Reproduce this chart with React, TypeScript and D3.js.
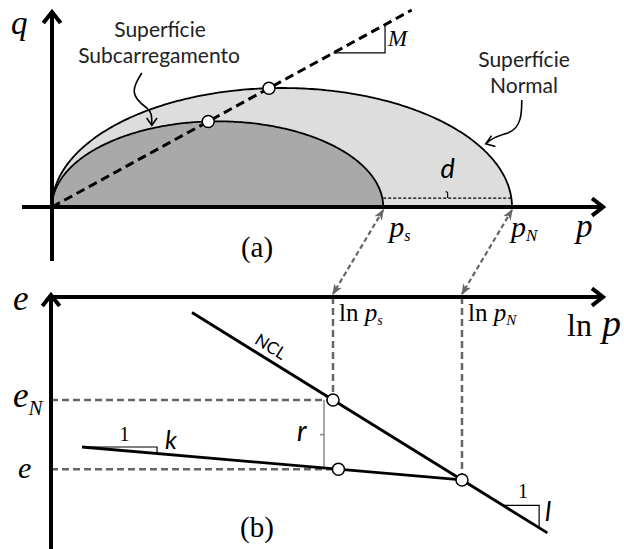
import React from "react";
import * as d3 from "d3";

// Yield surfaces (modified Cam-Clay shape) in the p–q plane
const pS = 7.2; // subloading surface size
const pN = 10; // normal surface size
const surfaceShape = 1.2; // q at surface top / (p0 / 2)
const M = 1.27; // critical state line slope
const cslEndP = 7.82;
const pAxisMax = 11.98;
const dOffsetQ = 0.45;

// Compression lines in the ln p – e plane
const N = 1.5; // NCL intercept at ln p = 0
const lambda = 0.25;
const kappa = 0.035;
const pCurrent = 7.3;
const nclLnRange = [1.615, 2.52];
const kappaStartLn = 1.335;
const kappaTriangleWidth = 0.191;
const lambdaTriangle = [2.407, 2.499];

const serif = "'Liberation Serif', 'Times New Roman', serif";
const sans = "Lato, 'Open Sans', sans-serif";

function chevron(tip: [number, number], angleDeg: number, len: number, spread: number) {
  const a = (angleDeg * Math.PI) / 180;
  const s = (spread * Math.PI) / 180;
  const p1: [number, number] = [tip[0] - len * Math.cos(a - s), tip[1] - len * Math.sin(a - s)];
  const p2: [number, number] = [tip[0] - len * Math.cos(a + s), tip[1] - len * Math.sin(a + s)];
  return `M${p1[0]},${p1[1]} L${tip[0]},${tip[1]} L${p2[0]},${p2[1]}`;
}

export default function App() {
  const W = 624;
  const H = 549;

  const xP = d3.scaleLinear().domain([0, 10]).range([52, 512]);
  const yQ = d3.scaleLinear().domain([0, 6]).range([207, 88]);
  const xL = d3.scaleLinear().domain([Math.log(pS), Math.log(pN)]).range([333, 462]);
  const yE = d3.scaleLinear().domain([0.9, 1.0]).range([503.7, 406.3]);

  const surface = (p0: number) =>
    d3.range(0, 241).map((i) => {
      const t = (i / 240) * Math.PI;
      return [(p0 / 2) * (1 - Math.cos(t)), ((surfaceShape * p0) / 2) * Math.sin(t)] as [number, number];
    });
  const surfaceQ = (p0: number, p: number) => surfaceShape * Math.sqrt(Math.max(0, p * (p0 - p)));
  const area = d3
    .area<[number, number]>()
    .x((d) => xP(d[0]))
    .y0(yQ(0))
    .y1((d) => yQ(d[1]));
  const line = d3
    .line<[number, number]>()
    .x((d) => xP(d[0]))
    .y((d) => yQ(d[1]));

  // stress state on the CSL for each surface
  const cslHit = (p0: number) => {
    const p = (p0 * surfaceShape ** 2) / (surfaceShape ** 2 + M ** 2);
    return [p, M * p] as [number, number];
  };
  const hitS = cslHit(pS);
  const hitN = cslHit(pN);

  // slope triangle on the CSL
  const triQ = 7.77;
  const triP1 = triQ / M;
  const triP2 = 7.24;

  // compression lines
  const ncl = (lp: number) => N - lambda * lp;
  const lnPS = Math.log(pS);
  const lnPN = Math.log(pN);
  const lnPC = Math.log(pCurrent);
  const eAtPN = ncl(lnPN);
  const url = (lp: number) => eAtPN + kappa * (lnPN - lp);
  const eN = ncl(lnPS);
  const eCur = url(lnPC);

  const nclAngle =
    (Math.atan2(yE(ncl(nclLnRange[1])) - yE(ncl(nclLnRange[0])), xL(nclLnRange[1]) - xL(nclLnRange[0])) * 180) / Math.PI;
  const nclLabelLn = 1.8;

  const axisW = 4;
  const gray = "#666666";

  // annotation arrows pointing to the surfaces
  const subTipP = 2.17;
  const subTip: [number, number] = [xP(subTipP), yQ(surfaceQ(pS, subTipP)) - 3];
  const norTipP = 9.43;
  const norTip: [number, number] = [xP(norTipP), yQ(surfaceQ(pN, norTipP)) - 8];

  const dMid = xP((pS + pN) / 2);

  return (
    <svg width={W} height={H} viewBox={`0 0 ${W} ${H}`} style={{ position: "absolute", left: 0, top: 0, background: "#fff" }}>
      <defs>
        <marker id="grayHead" viewBox="0 0 10 8" refX="9" refY="4" markerWidth="11" markerHeight="9" markerUnits="userSpaceOnUse" orient="auto-start-reverse">
          <path d="M0,0 L10,4 L0,8 L3,4 z" fill={gray} />
        </marker>
      </defs>

      {/* ---------- (a) p–q plane ---------- */}
      <path d={area(surface(pN)) || ""} fill="#dddddd" stroke="none" />
      <path d={area(surface(pS)) || ""} fill="#a9a9a9" stroke="none" />
      <path d={line(surface(pN)) || ""} fill="none" stroke="#000" strokeWidth={1.8} />
      <path d={line(surface(pS)) || ""} fill="none" stroke="#000" strokeWidth={1.8} />

      {/* d: distance between surfaces */}
      <line x1={xP(pS)} x2={xP(pN)} y1={yQ(dOffsetQ)} y2={yQ(dOffsetQ)} stroke="#000" strokeWidth={1.2} strokeDasharray="3,2" />
      <path
        d={`M${dMid},${yQ(dOffsetQ)} L${dMid},${yQ(dOffsetQ) - 5} Q${dMid - 1},${yQ(dOffsetQ) - 7} ${dMid - 2},${yQ(dOffsetQ) - 6}`}
        fill="none"
        stroke="#000"
        strokeWidth={1.2}
      />
      <text x={dMid} y={178} fontFamily={sans} fontStyle="italic" fontSize={27} textAnchor="middle">d</text>

      {/* critical state line */}
      <line x1={xP(0)} y1={yQ(0)} x2={xP(cslEndP)} y2={yQ(M * cslEndP)} stroke="#000" strokeWidth={3} strokeDasharray="9,5" />
      <path d={`M${xP(triP1)},${yQ(triQ)} L${xP(triP2)},${yQ(triQ)} L${xP(triP2)},${yQ(M * triP2)}`} fill="none" stroke="#000" strokeWidth={1.2} />
      <text x={xP(triP2) + 3} y={46} fontFamily={serif} fontStyle="italic" fontSize={23}>M</text>

      {/* axes */}
      <line x1={22} y1={yQ(0)} x2={xP(pAxisMax) - 2} y2={yQ(0)} stroke="#000" strokeWidth={axisW} />
      <path d={chevron([xP(pAxisMax), yQ(0)], 0, 14, 38)} fill="none" stroke="#000" strokeWidth={axisW} />
      <line x1={xP(0)} y1={261} x2={xP(0)} y2={14} stroke="#000" strokeWidth={axisW} />
      <path d={chevron([xP(0), 12], -90, 14, 38)} fill="none" stroke="#000" strokeWidth={axisW} />

      {/* points on CSL */}
      <circle cx={xP(hitS[0])} cy={yQ(hitS[1])} r={6} fill="#fff" stroke="#000" strokeWidth={1.5} />
      <circle cx={xP(hitN[0])} cy={yQ(hitN[1])} r={6} fill="#fff" stroke="#000" strokeWidth={1.5} />

      {/* labels */}
      <text x={11} y={34} fontFamily={serif} fontStyle="italic" fontSize={33}>q</text>
      <text x={160} y={37} fontFamily={sans} fontSize={21} textAnchor="middle" fill="#222">Superfície</text>
      <text x={159} y={63} fontFamily={sans} fontSize={21} textAnchor="middle" fill="#222">Subcarregamento</text>
      <text x={524} y={67} fontFamily={sans} fontSize={21} textAnchor="middle" fill="#222">Superfície</text>
      <text x={524} y={93} fontFamily={sans} fontSize={21} textAnchor="middle" fill="#222">Normal</text>

      <path
        d={`M${subTip[0] - 10},${73} C${subTip[0] - 20},${88} ${subTip[0] - 22},${96} ${subTip[0] - 5},${108} C${subTip[0]},${112} ${subTip[0]},${116} ${subTip[0]},${subTip[1]}`}
        fill="none"
        stroke="#000"
        strokeWidth={1.6}
      />
      <path d={chevron(subTip, 90, 9, 35)} fill="none" stroke="#000" strokeWidth={1.6} />
      <path
        d={`M${norTip[0] + 36},${100} C${norTip[0] + 36},${112} ${norTip[0] + 36},${128} ${norTip[0] + 22},${133} C${norTip[0] + 12},${136} ${norTip[0] + 6},${138} ${norTip[0]},${norTip[1]}`}
        fill="none"
        stroke="#000"
        strokeWidth={1.6}
      />
      <path d={chevron(norTip, 160, 10, 35)} fill="none" stroke="#000" strokeWidth={1.6} />

      <text x={xP(pS) + 6} y={237} fontFamily={serif} fontStyle="italic" fontSize={30}>
        p<tspan fontSize={16} dy={4}>s</tspan>
      </text>
      <text x={xP(pN) - 1} y={237} fontFamily={serif} fontStyle="italic" fontSize={30}>
        p<tspan fontSize={17} dy={4}>N</tspan>
      </text>
      <text x={576} y={237} fontFamily={serif} fontStyle="italic" fontSize={33}>p</text>
      <text x={257} y={257} fontFamily={serif} fontSize={29} textAnchor="middle">(a)</text>

      {/* mapping p → ln p */}
      <line x1={xP(pS)} y1={yQ(0) + 3} x2={xL(lnPS)} y2={297 - 3} stroke={gray} strokeWidth={2.2} strokeDasharray="5,3" markerStart="url(#grayHead)" markerEnd="url(#grayHead)" />
      <line x1={xP(pN)} y1={yQ(0) + 3} x2={xL(lnPN)} y2={297 - 3} stroke={gray} strokeWidth={2.2} strokeDasharray="5,3" markerStart="url(#grayHead)" markerEnd="url(#grayHead)" />

      {/* ---------- (b) ln p – e plane ---------- */}
      <line x1={xL(lnPS)} y1={297} x2={xL(lnPS)} y2={yE(eN)} stroke={gray} strokeWidth={2.5} strokeDasharray="7,4" />
      <line x1={xL(lnPN)} y1={297} x2={xL(lnPN)} y2={yE(eAtPN)} stroke={gray} strokeWidth={2.5} strokeDasharray="7,4" />
      <line x1={51} y1={yE(eN)} x2={xL(lnPS)} y2={yE(eN)} stroke={gray} strokeWidth={2.5} strokeDasharray="7,4" />
      <line x1={51} y1={yE(eCur)} x2={xL(lnPC)} y2={yE(eCur)} stroke={gray} strokeWidth={2.5} strokeDasharray="7,4" />

      {/* r: distance to NCL */}
      <line x1={xL(lnPS) - 9} y1={yE(eN)} x2={xL(lnPS) - 9} y2={yE(eCur)} stroke="#888" strokeWidth={1.5} />
      <line x1={xL(lnPS) - 9} y1={(yE(eN) + yE(eCur)) / 2} x2={xL(lnPS) - 13} y2={(yE(eN) + yE(eCur)) / 2} stroke="#888" strokeWidth={1.5} />
      <text x={297} y={441} fontFamily={sans} fontStyle="italic" fontSize={28}>r</text>

      {/* NCL */}
      <line x1={xL(nclLnRange[0])} y1={yE(ncl(nclLnRange[0]))} x2={xL(nclLnRange[1])} y2={yE(ncl(nclLnRange[1]))} stroke="#000" strokeWidth={2.8} />
      <text
        transform={`translate(${xL(nclLabelLn) + 3},${yE(ncl(nclLabelLn)) - 6}) rotate(${nclAngle})`}
        fontFamily={sans}
        fontSize={17}
        textAnchor="middle"
      >
        NCL
      </text>
      <path
        d={`M${xL(lambdaTriangle[0])},${yE(ncl(lambdaTriangle[0]))} L${xL(lambdaTriangle[1])},${yE(ncl(lambdaTriangle[0]))} L${xL(lambdaTriangle[1])},${yE(ncl(lambdaTriangle[1]))}`}
        fill="none"
        stroke="#000"
        strokeWidth={1.2}
      />
      <text x={(xL(lambdaTriangle[0]) + xL(lambdaTriangle[1])) / 2 + 2} y={498} fontFamily={serif} fontSize={20} textAnchor="middle">1</text>
      <text x={545} y={521} fontFamily={sans} fontStyle="italic" fontSize={27}>l</text>

      {/* unloading–reloading line */}
      <line x1={xL(kappaStartLn)} y1={yE(url(kappaStartLn))} x2={xL(lnPN)} y2={yE(url(lnPN))} stroke="#000" strokeWidth={2.8} />
      <path
        d={`M${xL(kappaStartLn)},${yE(url(kappaStartLn))} L${xL(kappaStartLn + kappaTriangleWidth)},${yE(url(kappaStartLn))} L${xL(kappaStartLn + kappaTriangleWidth)},${yE(url(kappaStartLn + kappaTriangleWidth))}`}
        fill="none"
        stroke="#000"
        strokeWidth={1.2}
      />
      <text x={(xL(kappaStartLn) + xL(kappaStartLn + kappaTriangleWidth)) / 2 + 5} y={441} fontFamily={serif} fontSize={20} textAnchor="middle">1</text>
      <text x={165} y={449} fontFamily={sans} fontStyle="italic" fontSize={25}>k</text>

      {/* axes */}
      <line x1={51} y1={297} x2={603 - 2} y2={297} stroke="#000" strokeWidth={axisW} />
      <path d={chevron([603, 297], 0, 14, 38)} fill="none" stroke="#000" strokeWidth={axisW} />
      <line x1={51} y1={549} x2={51} y2={297} stroke="#000" strokeWidth={axisW} />
      <path d={chevron([51, 295], -90, 14, 38)} fill="none" stroke="#000" strokeWidth={axisW} />

      {/* states */}
      <circle cx={xL(lnPS)} cy={yE(eN)} r={6} fill="#fff" stroke="#000" strokeWidth={1.5} />
      <circle cx={xL(lnPC)} cy={yE(eCur)} r={6} fill="#fff" stroke="#000" strokeWidth={1.5} />
      <circle cx={xL(lnPN)} cy={yE(eAtPN)} r={6} fill="#fff" stroke="#000" strokeWidth={1.5} />

      {/* labels */}
      <text x={13} y={310} fontFamily={serif} fontStyle="italic" fontSize={35}>e</text>
      <text x={13} y={407} fontFamily={serif} fontStyle="italic" fontSize={35}>
        e<tspan fontSize={21} dy={8}>N</tspan>
      </text>
      <text x={18} y={478} fontFamily={serif} fontStyle="italic" fontSize={30}>e</text>
      <text x={xL(lnPS) + 6} y={321} fontFamily={serif} fontSize={25}>
        ln <tspan fontStyle="italic">p</tspan>
        <tspan fontStyle="italic" fontSize={14} dy={4}>s</tspan>
      </text>
      <text x={xL(lnPN) + 6} y={321} fontFamily={serif} fontSize={25}>
        ln <tspan fontStyle="italic">p</tspan>
        <tspan fontStyle="italic" fontSize={15} dy={4}>N</tspan>
      </text>
      <text x={567} y={336} fontFamily={serif} fontSize={32}>
        ln <tspan fontStyle="italic" fontSize={38} dx={2}>p</tspan>
      </text>
      <text x={257} y={537} fontFamily={serif} fontSize={29} textAnchor="middle">(b)</text>
    </svg>
  );
}
